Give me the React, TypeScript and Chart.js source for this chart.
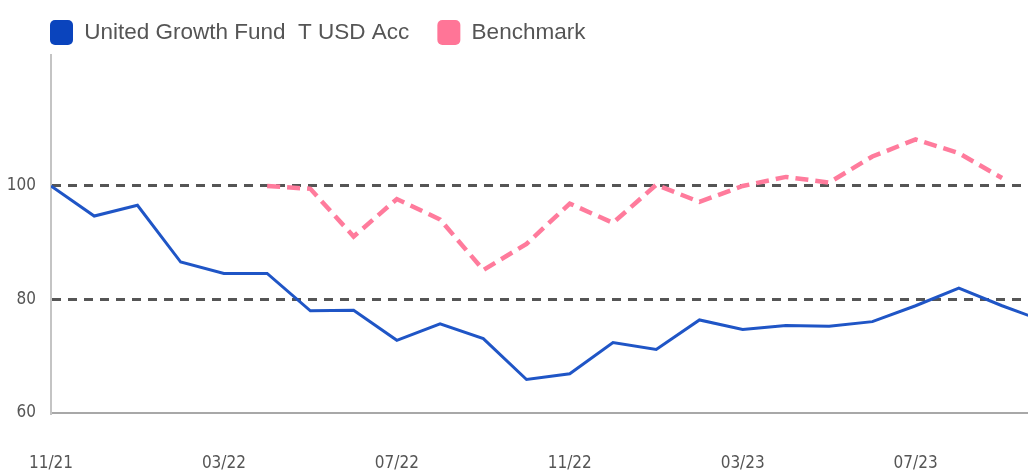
import React, { useEffect, useRef } from "react";
import { Chart, registerables } from "chart.js";

Chart.register(...registerables);

const months = [
  "11/21", "12/21", "01/22", "02/22", "03/22", "04/22", "05/22", "06/22",
  "07/22", "08/22", "09/22", "10/22", "11/22", "12/22", "01/23", "02/23",
  "03/23", "04/23", "05/23", "06/23", "07/23", "08/23", "09/23", "10/23",
];
const tickLabels = ["11/21", "03/22", "07/22", "11/22", "03/23", "07/23"];
const fundName = "United Growth Fund  T USD Acc";
const benchmarkName = "Benchmark";
const fundValues = [
  100, 94.7, 96.6, 86.6, 84.6, 84.6, 78.0, 78.1, 72.8, 75.7, 73.1, 65.9,
  66.9, 72.4, 71.2, 76.4, 74.7, 75.4, 75.3, 76.1, 78.9, 82.0, 78.9, 76.1,
];
const benchmarkValues: (number | null)[] = [
  null, null, null, null, null, 100.0, 99.5, 91.1, 97.7, 94.1, 85.2, 89.8,
  96.9, 93.5, 100.2, 97.2, 100.0, 101.6, 100.6, 105.2, 108.2, 105.8, 101.4, null,
];
const yTicks = [60, 80, 100];
const yMin = 60;
const yMax = 123.08;
const xMax = 22.6;

const FUND_LINE = "#1f55c6";
const FUND_BOX = "#0a44bd";
const BENCH_LINE = "#ff7b9c";
const BENCH_BOX = "#ff7597";
const narrow =
  "'Liberation Sans Narrow', 'Arial Narrow', 'DejaVu Sans Condensed', 'Liberation Sans', Arial, sans-serif";

const legendShift = {
  id: "legendShift",
  afterLayout(chart: any) {
    if (chart.legend) chart.legend.left += 22;
  },
};

export default function App() {
  const ref = useRef<HTMLCanvasElement | null>(null);
  useEffect(() => {
    if (!ref.current) return;
    const fundPts = fundValues.map((v, i) => ({ x: i, y: v }));
    const benchPts = benchmarkValues
      .map((v, i) => ({ x: i, y: v }))
      .filter((p) => p.y !== null) as { x: number; y: number }[];
    const boxColors = [FUND_BOX, BENCH_BOX];
    const chart = new Chart(ref.current, {
      type: "line",
      data: {
        datasets: [
          {
            label: fundName,
            data: fundPts,
            borderColor: FUND_LINE,
            backgroundColor: FUND_BOX,
            borderWidth: 3,
            pointRadius: 0,
            tension: 0,
          },
          {
            label: benchmarkName,
            data: benchPts,
            borderColor: BENCH_LINE,
            backgroundColor: BENCH_BOX,
            borderWidth: 4.5,
            borderDash: [13, 7],
            pointRadius: 0,
            tension: 0,
          },
        ],
      },
      options: {
        responsive: false,
        animation: false,
        layout: { padding: { left: 0, right: 0, top: -8, bottom: 0 } },
        plugins: {
          tooltip: { enabled: false },
          legend: {
            position: "top",
            align: "start",
            labels: {
              boxWidth: 23,
              boxHeight: 25,
              padding: 28,
              color: "#555",
              useBorderRadius: true,
              borderRadius: 5,
              font: { family: "'Liberation Sans', Arial, sans-serif", size: 22.5 },
              generateLabels: (c: any) =>
                Chart.defaults.plugins.legend.labels
                  .generateLabels(c)
                  .map((l: any, i: number) => ({
                    ...l,
                    fillStyle: boxColors[i],
                    strokeStyle: boxColors[i],
                    lineWidth: 0,
                    lineDash: [],
                  })),
            },
          },
        },
        scales: {
          x: {
            type: "linear",
            min: 0,
            max: xMax,
            grid: { display: false, drawTicks: false },
            border: { display: true, color: "#a8a8a8", width: 2 },
            afterBuildTicks: (s: any) => {
              s.ticks = tickLabels.map((l) => ({ value: months.indexOf(l) }));
            },
            afterFit: (s: any) => {
              s.height = 59;
              s.paddingLeft = 0;
              s.paddingRight = 0;
            },
            ticks: {
              autoSkip: false,
              maxRotation: 0,
              padding: 42,
              color: "#555",
              font: { family: narrow, size: 17, lineHeight: 1 },
              callback: (v: any) => months[v],
            },
          },
          y: {
            type: "linear",
            min: yMin,
            max: yMax,
            afterBuildTicks: (s: any) => {
              s.ticks = yTicks.map((v) => ({ value: v }));
            },
            afterFit: (s: any) => {
              s.width = 51;
            },
            grid: {
              drawTicks: false,
              color: (ctx: any) =>
                ctx.tick && ctx.tick.value === yMin ? "rgba(0,0,0,0)" : "#555",
              lineWidth: 3,
            },
            border: { display: true, color: "#c4c4c4", width: 2, dash: [9, 7] },
            ticks: {
              padding: 15,
              color: "#555",
              font: { family: narrow, size: 17 },
            },
          },
        },
      },
      plugins: [legendShift],
    } as any);
    return () => chart.destroy();
  }, []);
  return (
    <div style={{ position: "absolute", left: 0, top: 0, width: 1028, height: 472 }}>
      <canvas ref={ref} width={1028} height={472} style={{ display: "block" }} />
    </div>
  );
}
